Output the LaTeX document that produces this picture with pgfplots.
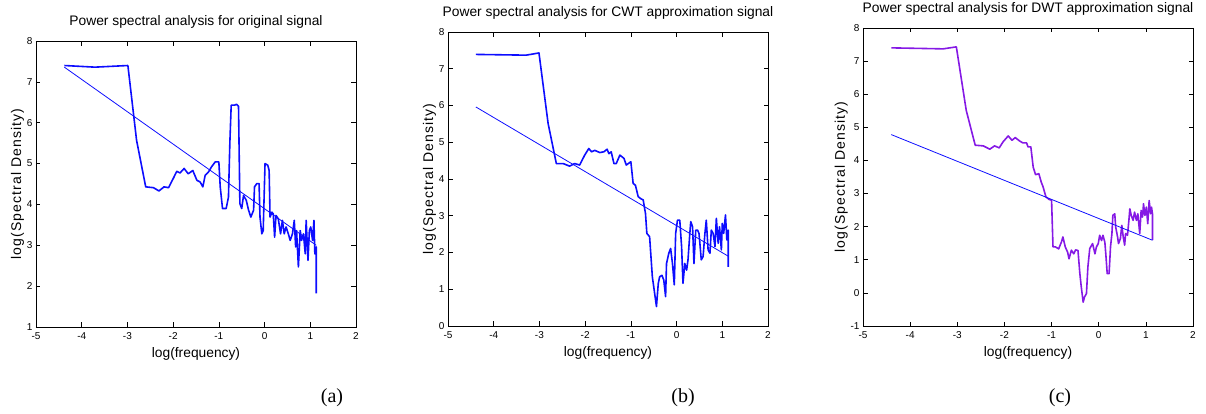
\documentclass[border=0pt]{standalone}
\usepackage{pgfplots}
\pgfplotsset{compat=1.18}
\usepackage{fontspec}
\setmainfont{Liberation Sans}
\newfontfamily\serif{Liberation Serif}
\newfontfamily\spaced[LetterSpace=8]{Liberation Sans}

\definecolor{mblue}{rgb}{0.05,0.05,1}
\definecolor{mpurple}{rgb}{0.52,0.1,0.9}

\pgfplotsset{
  panel/.style={
    scale only axis,
    xmin=-5, xmax=2,
    xtick={-5,-4,-3,-2,-1,0,1,2},
    xticklabels={-5,-4,-3,-2,-1,0,1,2},
    tick align=inside,
    tick pos=both,
    major tick length=4.5bp,
    axis line style={black, line width=0.9bp},
    tick style={black, line width=0.6bp},
    tick label style={font=\fontsize{10bp}{11bp}\selectfont},
    xticklabel style={anchor=base, yshift=-12.5bp},
    title style={at={(0.5,1)}, anchor=base, yshift=10bp,
                 font=\fontsize{13.8bp}{16bp}\selectfont},
    xlabel style={at={(0.5,0)}, anchor=base, yshift=-30bp,
                  font=\fontsize{13.8bp}{16bp}\selectfont},
    ylabel style={font=\fontsize{14bp}{16bp}\spaced\selectfont},
    xlabel={log(frequency)},
    ylabel={log(Spectral Density)},
    every axis plot/.append style={line join=round},
  },
  main/.style={line width=1.6bp},
  fit/.style={mblue, line width=0.8bp},
}

\begin{document}
\begin{tikzpicture}
\useasboundingbox (0,0) rectangle (1206bp,414bp);

% (a)
\begin{axis}[panel, at={(36bp,87bp)}, width=320bp, height=286bp,
  ymin=1, ymax=8, ytick={1,...,8}, yticklabels={1,2,3,4,5,6,7,8},
  title={Power spectral analysis for original signal},
  ylabel style={yshift=-4bp}]
\addplot[main, mblue] coordinates {
(-4.38,7.40) (-3.71,7.36) (-2.99,7.40) (-2.80,5.57) (-2.60,4.43) (-2.43,4.41)
(-2.31,4.33) (-2.20,4.43) (-2.10,4.41) (-2.00,4.63) (-1.92,4.81) (-1.85,4.77)
(-1.76,4.88) (-1.67,4.75) (-1.57,4.83) (-1.48,4.59) (-1.41,4.55) (-1.35,4.43)
(-1.30,4.71) (-1.23,4.79) (-1.16,4.92) (-1.08,5.04) (-1.00,5.04) (-0.97,4.43)
(-0.92,3.90) (-0.84,3.90) (-0.79,4.18) (-0.76,5.49) (-0.73,6.43) (-0.66,6.43)
(-0.61,6.45) (-0.57,6.40) (-0.54,4.02) (-0.50,3.90) (-0.46,4.22) (-0.40,4.10)
(-0.35,3.86) (-0.30,3.69) (-0.24,3.86) (-0.22,4.43) (-0.17,4.51) (-0.12,4.51)
(-0.10,3.69) (-0.06,3.28) (-0.03,3.36) (0.01,5.00) (0.07,4.96) (0.10,4.83)
(0.12,3.69) (0.16,3.81) (0.19,3.77) (0.22,3.20) (0.25,3.73) (0.30,3.65)
(0.35,3.28) (0.39,3.61) (0.43,3.28) (0.47,3.45) (0.52,3.28) (0.56,3.12)
(0.61,3.28) (0.65,3.61) (0.68,2.96) (0.70,3.36) (0.74,2.47) (0.78,3.36)
(0.81,3.12) (0.85,3.28) (0.89,2.79) (0.91,3.61) (0.95,2.63) (0.98,3.36)
(1.01,3.45) (1.05,3.12) (1.08,3.61) (1.10,2.79) (1.13,2.96) (1.13,1.82)
};
\addplot[fit] coordinates {(-4.38,7.36) (1.13,3.00)};
\end{axis}

% (b)
\begin{axis}[panel, at={(448bp,88bp)}, width=320bp, height=294bp,
  ymin=0, ymax=8, ytick={0,...,8}, yticklabels={0,1,2,3,4,5,6,7,8},
  title={Power spectral analysis for CWT approximation signal},
  ylabel style={yshift=-4bp}]
\addplot[main, mblue] coordinates {
(-4.39,7.39) (-3.29,7.37) (-3.01,7.43) (-2.81,5.51) (-2.63,4.42) (-2.48,4.42)
(-2.34,4.35) (-2.23,4.42) (-2.12,4.38) (-2.01,4.65) (-1.92,4.83) (-1.86,4.74)
(-1.79,4.78) (-1.68,4.72) (-1.59,4.74) (-1.52,4.81) (-1.48,4.69) (-1.43,4.74)
(-1.37,4.42) (-1.32,4.42) (-1.24,4.65) (-1.19,4.60) (-1.15,4.56) (-1.10,4.38)
(-1.00,4.47) (-0.95,3.88) (-0.90,3.83) (-0.84,3.52) (-0.79,3.47) (-0.73,3.43)
(-0.68,3.06) (-0.65,2.52) (-0.59,2.43) (-0.53,1.34) (-0.48,0.89) (-0.44,0.53)
(-0.40,1.16) (-0.37,1.34) (-0.32,1.38) (-0.28,1.25) (-0.24,0.80) (-0.22,1.70)
(-0.17,1.98) (-0.13,2.11) (-0.09,1.70) (-0.05,1.12) (-0.02,2.52) (0.02,2.88)
(0.07,2.88) (0.11,2.16) (0.14,1.16) (0.18,1.70) (0.22,1.52) (0.25,1.80)
(0.29,2.52) (0.31,2.84) (0.35,2.70) (0.38,1.70) (0.42,2.61) (0.46,2.61)
(0.49,2.52) (0.51,2.25) (0.54,1.80) (0.58,1.89) (0.62,2.52) (0.65,2.88)
(0.69,2.07) (0.73,1.98) (0.76,2.61) (0.80,2.52) (0.84,2.16) (0.87,2.93)
(0.91,2.25) (0.94,2.70) (0.98,2.07) (1.00,2.79) (1.03,2.52) (1.07,3.02)
(1.10,2.34) (1.13,2.61) (1.13,1.61)
};
\addplot[fit] coordinates {(-4.39,5.96) (1.13,1.90)};
\end{axis}

% (c)
\begin{axis}[panel, at={(863bp,88bp)}, width=330bp, height=298bp,
  ymin=-1, ymax=8, ytick={-1,...,8}, yticklabels={-1,0,1,2,3,4,5,6,7,8},
  title={Power spectral analysis for DWT approximation signal},
  ylabel style={yshift=-4bp}]
\addplot[main, mpurple] coordinates {
(-4.40,7.40) (-3.30,7.37) (-3.02,7.43) (-2.81,5.51) (-2.62,4.46) (-2.45,4.44)
(-2.31,4.34) (-2.21,4.44) (-2.11,4.38) (-2.03,4.56) (-1.92,4.74) (-1.84,4.61)
(-1.77,4.69) (-1.68,4.59) (-1.61,4.53) (-1.53,4.53) (-1.50,4.41) (-1.44,4.41)
(-1.39,3.80) (-1.34,3.57) (-1.27,3.60) (-1.22,3.35) (-1.18,3.20) (-1.12,2.90)
(-1.05,2.82) (-1.00,2.80) (-0.97,1.39) (-0.92,1.39) (-0.85,1.33) (-0.79,1.54)
(-0.76,1.69) (-0.71,1.39) (-0.66,1.23) (-0.63,1.03) (-0.58,1.29) (-0.53,1.18)
(-0.49,1.30) (-0.44,1.28) (-0.40,0.58) (-0.37,0.18) (-0.33,-0.28) (-0.30,-0.12)
(-0.26,-0.02) (-0.23,0.78) (-0.19,1.34) (-0.13,1.49) (-0.08,1.18) (-0.05,1.38)
(-0.01,1.49) (0.02,1.74) (0.06,1.58) (0.09,1.74) (0.13,1.53) (0.15,1.18)
(0.18,0.58) (0.22,0.58) (0.25,1.39) (0.28,1.79) (0.30,2.34) (0.34,2.39)
(0.36,1.99) (0.40,1.69) (0.42,1.49) (0.46,1.64) (0.49,2.04) (0.52,1.69)
(0.55,1.44) (0.57,1.79) (0.61,1.74) (0.64,2.19) (0.66,2.54) (0.69,2.34)
(0.73,2.19) (0.76,2.44) (0.80,2.19) (0.83,2.39) (0.87,1.79) (0.90,2.49)
(0.93,2.29) (0.95,2.69) (0.98,2.34) (1.01,2.59) (1.04,2.09) (1.07,2.79)
(1.10,2.39) (1.12,2.59) (1.14,2.39) (1.14,1.59)
};
\addplot[fit] coordinates {(-4.40,4.78) (1.14,1.59)};
\end{axis}

\node[font=\fontsize{20bp}{22bp}\serif\selectfont] at (332bp,16bp) {(a)};
\node[font=\fontsize{20bp}{22bp}\serif\selectfont] at (683bp,16bp) {(b)};
\node[font=\fontsize{20bp}{22bp}\serif\selectfont] at (1060bp,16bp) {(c)};
\end{tikzpicture}
\end{document}
